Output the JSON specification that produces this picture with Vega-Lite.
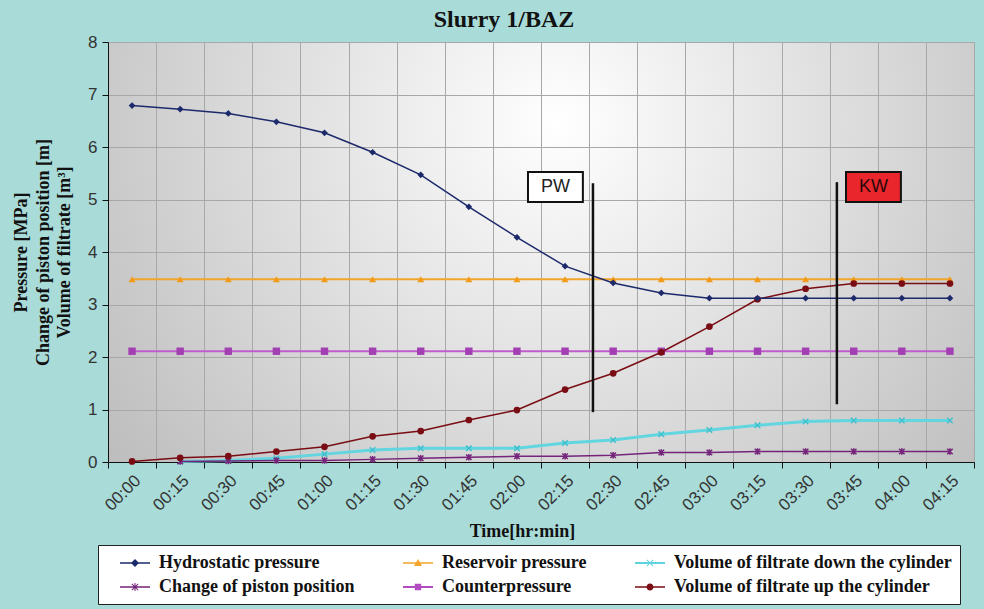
{
  "$schema": "https://vega.github.io/schema/vega-lite/v6.json",
  "width": 866,
  "height": 420,
  "autosize": {"type": "none"},
  "padding": {"left": 108, "top": 42, "right": 10, "bottom": 147},
  "background": "#a9dbd8",
  "title": {"text": "Slurry 1/BAZ", "font": "Liberation Serif", "fontSize": 24, "fontWeight": "bold", "color": "#111111", "anchor": "middle", "dx": -37, "offset": 1},
  "config": {
    "font": "Liberation Sans",
    "view": {"stroke": null, "fill": {"gradient": "radial", "x1": 0.52, "y1": 0.35, "r1": 0, "x2": 0.52, "y2": 0.35, "r2": 0.65, "stops": [{"offset": 0, "color": "#ffffff"}, {"offset": 1, "color": "#bdbdbd"}]}}
  },
  "datasets": {
    "series": [
      {"t": "00:00", "s": "Hydrostatic pressure", "v": 6.79},
      {"t": "00:15", "s": "Hydrostatic pressure", "v": 6.72},
      {"t": "00:30", "s": "Hydrostatic pressure", "v": 6.64},
      {"t": "00:45", "s": "Hydrostatic pressure", "v": 6.48},
      {"t": "01:00", "s": "Hydrostatic pressure", "v": 6.27},
      {"t": "01:15", "s": "Hydrostatic pressure", "v": 5.90},
      {"t": "01:30", "s": "Hydrostatic pressure", "v": 5.47},
      {"t": "01:45", "s": "Hydrostatic pressure", "v": 4.86},
      {"t": "02:00", "s": "Hydrostatic pressure", "v": 4.28},
      {"t": "02:15", "s": "Hydrostatic pressure", "v": 3.73},
      {"t": "02:30", "s": "Hydrostatic pressure", "v": 3.41},
      {"t": "02:45", "s": "Hydrostatic pressure", "v": 3.22},
      {"t": "03:00", "s": "Hydrostatic pressure", "v": 3.12},
      {"t": "03:15", "s": "Hydrostatic pressure", "v": 3.12},
      {"t": "03:30", "s": "Hydrostatic pressure", "v": 3.12},
      {"t": "03:45", "s": "Hydrostatic pressure", "v": 3.12},
      {"t": "04:00", "s": "Hydrostatic pressure", "v": 3.12},
      {"t": "04:15", "s": "Hydrostatic pressure", "v": 3.12},
      {"t": "00:00", "s": "Reservoir pressure", "v": 3.48},
      {"t": "00:15", "s": "Reservoir pressure", "v": 3.48},
      {"t": "00:30", "s": "Reservoir pressure", "v": 3.48},
      {"t": "00:45", "s": "Reservoir pressure", "v": 3.48},
      {"t": "01:00", "s": "Reservoir pressure", "v": 3.48},
      {"t": "01:15", "s": "Reservoir pressure", "v": 3.48},
      {"t": "01:30", "s": "Reservoir pressure", "v": 3.48},
      {"t": "01:45", "s": "Reservoir pressure", "v": 3.48},
      {"t": "02:00", "s": "Reservoir pressure", "v": 3.48},
      {"t": "02:15", "s": "Reservoir pressure", "v": 3.48},
      {"t": "02:30", "s": "Reservoir pressure", "v": 3.48},
      {"t": "02:45", "s": "Reservoir pressure", "v": 3.48},
      {"t": "03:00", "s": "Reservoir pressure", "v": 3.48},
      {"t": "03:15", "s": "Reservoir pressure", "v": 3.48},
      {"t": "03:30", "s": "Reservoir pressure", "v": 3.48},
      {"t": "03:45", "s": "Reservoir pressure", "v": 3.48},
      {"t": "04:00", "s": "Reservoir pressure", "v": 3.48},
      {"t": "04:15", "s": "Reservoir pressure", "v": 3.48},
      {"t": "00:00", "s": "Counterpressure", "v": 2.11},
      {"t": "00:15", "s": "Counterpressure", "v": 2.11},
      {"t": "00:30", "s": "Counterpressure", "v": 2.11},
      {"t": "00:45", "s": "Counterpressure", "v": 2.11},
      {"t": "01:00", "s": "Counterpressure", "v": 2.11},
      {"t": "01:15", "s": "Counterpressure", "v": 2.11},
      {"t": "01:30", "s": "Counterpressure", "v": 2.11},
      {"t": "01:45", "s": "Counterpressure", "v": 2.11},
      {"t": "02:00", "s": "Counterpressure", "v": 2.11},
      {"t": "02:15", "s": "Counterpressure", "v": 2.11},
      {"t": "02:30", "s": "Counterpressure", "v": 2.11},
      {"t": "02:45", "s": "Counterpressure", "v": 2.11},
      {"t": "03:00", "s": "Counterpressure", "v": 2.11},
      {"t": "03:15", "s": "Counterpressure", "v": 2.11},
      {"t": "03:30", "s": "Counterpressure", "v": 2.11},
      {"t": "03:45", "s": "Counterpressure", "v": 2.11},
      {"t": "04:00", "s": "Counterpressure", "v": 2.11},
      {"t": "04:15", "s": "Counterpressure", "v": 2.11},
      {"t": "00:15", "s": "Volume of filtrate down the cylinder", "v": 0.01},
      {"t": "00:30", "s": "Volume of filtrate down the cylinder", "v": 0.03},
      {"t": "00:45", "s": "Volume of filtrate down the cylinder", "v": 0.07},
      {"t": "01:00", "s": "Volume of filtrate down the cylinder", "v": 0.15},
      {"t": "01:15", "s": "Volume of filtrate down the cylinder", "v": 0.23},
      {"t": "01:30", "s": "Volume of filtrate down the cylinder", "v": 0.26},
      {"t": "01:45", "s": "Volume of filtrate down the cylinder", "v": 0.26},
      {"t": "02:00", "s": "Volume of filtrate down the cylinder", "v": 0.26},
      {"t": "02:15", "s": "Volume of filtrate down the cylinder", "v": 0.36},
      {"t": "02:30", "s": "Volume of filtrate down the cylinder", "v": 0.42},
      {"t": "02:45", "s": "Volume of filtrate down the cylinder", "v": 0.53},
      {"t": "03:00", "s": "Volume of filtrate down the cylinder", "v": 0.61},
      {"t": "03:15", "s": "Volume of filtrate down the cylinder", "v": 0.70},
      {"t": "03:30", "s": "Volume of filtrate down the cylinder", "v": 0.77},
      {"t": "03:45", "s": "Volume of filtrate down the cylinder", "v": 0.79},
      {"t": "04:00", "s": "Volume of filtrate down the cylinder", "v": 0.79},
      {"t": "04:15", "s": "Volume of filtrate down the cylinder", "v": 0.79},
      {"t": "00:15", "s": "Change of piston position", "v": 0.01},
      {"t": "00:30", "s": "Change of piston position", "v": 0.02},
      {"t": "00:45", "s": "Change of piston position", "v": 0.03},
      {"t": "01:00", "s": "Change of piston position", "v": 0.03},
      {"t": "01:15", "s": "Change of piston position", "v": 0.05},
      {"t": "01:30", "s": "Change of piston position", "v": 0.07},
      {"t": "01:45", "s": "Change of piston position", "v": 0.09},
      {"t": "02:00", "s": "Change of piston position", "v": 0.11},
      {"t": "02:15", "s": "Change of piston position", "v": 0.11},
      {"t": "02:30", "s": "Change of piston position", "v": 0.13},
      {"t": "02:45", "s": "Change of piston position", "v": 0.18},
      {"t": "03:00", "s": "Change of piston position", "v": 0.18},
      {"t": "03:15", "s": "Change of piston position", "v": 0.20},
      {"t": "03:30", "s": "Change of piston position", "v": 0.20},
      {"t": "03:45", "s": "Change of piston position", "v": 0.20},
      {"t": "04:00", "s": "Change of piston position", "v": 0.20},
      {"t": "04:15", "s": "Change of piston position", "v": 0.20},
      {"t": "00:00", "s": "Volume of filtrate up the cylinder", "v": 0.01},
      {"t": "00:15", "s": "Volume of filtrate up the cylinder", "v": 0.08},
      {"t": "00:30", "s": "Volume of filtrate up the cylinder", "v": 0.11},
      {"t": "00:45", "s": "Volume of filtrate up the cylinder", "v": 0.20},
      {"t": "01:00", "s": "Volume of filtrate up the cylinder", "v": 0.29},
      {"t": "01:15", "s": "Volume of filtrate up the cylinder", "v": 0.49},
      {"t": "01:30", "s": "Volume of filtrate up the cylinder", "v": 0.59},
      {"t": "01:45", "s": "Volume of filtrate up the cylinder", "v": 0.80},
      {"t": "02:00", "s": "Volume of filtrate up the cylinder", "v": 0.99},
      {"t": "02:15", "s": "Volume of filtrate up the cylinder", "v": 1.38},
      {"t": "02:30", "s": "Volume of filtrate up the cylinder", "v": 1.69},
      {"t": "02:45", "s": "Volume of filtrate up the cylinder", "v": 2.09},
      {"t": "03:00", "s": "Volume of filtrate up the cylinder", "v": 2.58},
      {"t": "03:15", "s": "Volume of filtrate up the cylinder", "v": 3.10},
      {"t": "03:30", "s": "Volume of filtrate up the cylinder", "v": 3.30},
      {"t": "03:45", "s": "Volume of filtrate up the cylinder", "v": 3.40},
      {"t": "04:00", "s": "Volume of filtrate up the cylinder", "v": 3.40},
      {"t": "04:15", "s": "Volume of filtrate up the cylinder", "v": 3.40}
    ]
  },
  "data": {"name": "series"},
  "encoding": {
    "x": {
      "field": "t", "type": "ordinal",
      "scale": {"paddingInner": 0, "paddingOuter": 0},
      "axis": {
        "title": "Time[hr:min]", "titleFont": "Liberation Serif", "titleFontSize": 18, "titleFontWeight": "bold", "titleColor": "#111111", "titlePadding": 9, "titleX": 414,
        "tickBand": "extent", "grid": true, "gridColor": "#a8a8a8", "gridWidth": 1,
        "domainColor": "#111111", "tickColor": "#111111", "tickSize": 6,
        "labelAngle": -45, "labelFont": "Liberation Sans", "labelFontSize": 17, "labelColor": "#333333", "labelPadding": 4
      }
    },
    "y": {
      "field": "v", "type": "quantitative",
      "scale": {"domain": [0, 8], "nice": false},
      "axis": {
        "title": ["Pressure [MPa]", "Change of piston position [m]", "Volume of filtrate [m³]"],
        "titleFont": "Liberation Serif", "titleFontSize": 18, "titleFontWeight": "bold", "titleColor": "#111111", "titleLineHeight": 21.5, "titlePadding": 14,
        "values": [0, 1, 2, 3, 4, 5, 6, 7, 8], "grid": true, "gridColor": "#a8a8a8", "gridWidth": 1,
        "domainColor": "#111111", "tickColor": "#111111", "tickSize": 6,
        "labelFont": "Liberation Sans", "labelFontSize": 17, "labelColor": "#333333", "labelPadding": 5
      }
    }
  },
  "layer": [
    {
      "transform": [{"filter": "datum.s === 'Counterpressure'"}],
      "layer": [
        {"mark": {"type": "line", "color": "#c05ccc", "strokeWidth": 2}},
        {"mark": {"type": "point", "shape": "square", "filled": true, "size": 55, "color": "#a23fb2", "opacity": 1}}
      ]
    },
    {
      "transform": [{"filter": "datum.s === 'Reservoir pressure'"}],
      "layer": [
        {"mark": {"type": "line", "color": "#f2a52a", "strokeWidth": 2}},
        {"mark": {"type": "point", "shape": "triangle-up", "filled": true, "size": 50, "color": "#f29a1a", "opacity": 1}}
      ]
    },
    {
      "transform": [{"filter": "datum.s === 'Volume of filtrate down the cylinder'"}],
      "layer": [
        {"mark": {"type": "line", "color": "#62d6e0", "strokeWidth": 3}},
        {"mark": {"type": "point", "shape": "M-1,-1L1,1M1,-1L-1,1", "filled": false, "size": 30, "color": "#3fc0cc", "strokeWidth": 1.5, "opacity": 1}}
      ]
    },
    {
      "transform": [{"filter": "datum.s === 'Change of piston position'"}],
      "layer": [
        {"mark": {"type": "line", "color": "#74247a", "strokeWidth": 1.5}},
        {"mark": {"type": "point", "shape": "M-1,-1L1,1M1,-1L-1,1M0,-1.2L0,1.2", "filled": false, "size": 30, "color": "#74247a", "strokeWidth": 1.5, "opacity": 1}}
      ]
    },
    {
      "transform": [{"filter": "datum.s === 'Volume of filtrate up the cylinder'"}],
      "layer": [
        {"mark": {"type": "line", "color": "#7a0c14", "strokeWidth": 1.5}},
        {"mark": {"type": "point", "shape": "circle", "filled": true, "size": 45, "color": "#7a0c14", "opacity": 1}}
      ]
    },
    {
      "transform": [{"filter": "datum.s === 'Hydrostatic pressure'"}],
      "layer": [
        {"mark": {"type": "line", "color": "#1c2a6b", "strokeWidth": 1.5}},
        {"mark": {"type": "point", "shape": "diamond", "filled": true, "size": 45, "color": "#1c2a6b", "opacity": 1}}
      ]
    },
    {
      "mark": {"type": "point", "filled": true, "clip": true, "opacity": 1},
      "encoding": {
        "y": {"datum": -1},
        "color": {"field": "s", "type": "nominal",
          "scale": {"domain": ["Hydrostatic pressure", "Reservoir pressure", "Volume of filtrate down the cylinder", "Change of piston position", "Counterpressure", "Volume of filtrate up the cylinder"],
                    "range": ["#1c2a6b", "#f2a52a", "#5fd4de", "#74247a", "#b24cc0", "#7a0c14"]},
          "legend": {"title": null, "orient": "none", "legendX": -10, "legendY": 503, "columns": 3, "direction": "horizontal", "columnPadding": 34, "rowPadding": 5, "symbolSize": 400, "symbolOffset": 19, "symbolStrokeWidth": 0, "labelFont": "Liberation Serif", "labelFontSize": 18, "labelFontWeight": "bold", "labelColor": "#111111", "labelOffset": 14, "labelLimit": 0, "strokeColor": "#222222", "fillColor": "#ffffff", "padding": 8}},
        "shape": {"field": "s", "type": "nominal",
          "scale": {"domain": ["Hydrostatic pressure", "Reservoir pressure", "Volume of filtrate down the cylinder", "Change of piston position", "Counterpressure", "Volume of filtrate up the cylinder"],
                    "range": [
                      "M-1.5,-0.07H1.5V0.07H-1.5Z M0,-0.4L0.4,0L0,0.4L-0.4,0Z",
                      "M-1.5,-0.07H1.5V0.07H-1.5Z M0,-0.4L0.4,0.3L-0.4,0.3Z",
                      "M-1.5,-0.1H1.5V0.1H-1.5Z M-0.35,-0.28L-0.28,-0.35L0.35,0.28L0.28,0.35Z M0.28,-0.35L0.35,-0.28L-0.28,0.35L-0.35,0.28Z",
                      "M-1.5,-0.07H1.5V0.07H-1.5Z M-0.35,-0.28L-0.28,-0.35L0.35,0.28L0.28,0.35Z M0.28,-0.35L0.35,-0.28L-0.28,0.35L-0.35,0.28Z M-0.05,-0.4H0.05V0.4H-0.05Z",
                      "M-1.5,-0.09H1.5V0.09H-1.5Z M-0.32,-0.32H0.32V0.32H-0.32Z",
                      "M-1.5,-0.07H1.5V0.07H-1.5Z M0.35,0A0.35,0.35,0,1,1,-0.35,0A0.35,0.35,0,1,1,0.35,0Z"
                    ]},
          "legend": {"title": null, "orient": "none", "legendX": -10, "legendY": 503, "columns": 3, "direction": "horizontal", "columnPadding": 34, "rowPadding": 5, "symbolSize": 400, "symbolOffset": 19, "symbolStrokeWidth": 0, "labelFont": "Liberation Serif", "labelFontSize": 18, "labelFontWeight": "bold", "labelColor": "#111111", "labelOffset": 14, "labelLimit": 0, "strokeColor": "#222222", "fillColor": "#ffffff", "padding": 8}}
      }
    },
    {
      "data": {"values": [{"t": "02:30", "top": 5.31, "bottom": 0.95}]},
      "mark": {"type": "rule", "color": "#111111", "strokeWidth": 2.5},
      "encoding": {
        "x": {"field": "t", "type": "ordinal", "bandPosition": 0.08},
        "y": {"field": "top", "type": "quantitative"},
        "y2": {"field": "bottom"}
      }
    },
    {
      "data": {"values": [{"t": "03:45", "top": 5.33, "bottom": 1.10}]},
      "mark": {"type": "rule", "color": "#111111", "strokeWidth": 2.5},
      "encoding": {
        "x": {"field": "t", "type": "ordinal", "bandPosition": 0.15},
        "y": {"field": "top", "type": "quantitative"},
        "y2": {"field": "bottom"}
      }
    },
    {
      "data": {"values": [{"t": "02:15", "label": "PW", "pos": 5.24}]},
      "layer": [
        {"mark": {"type": "point", "shape": "M-1.83,-1H1.83V1H-1.83Z", "size": 900, "filled": true, "fill": "#ffffff", "stroke": "#111111", "strokeWidth": 2, "opacity": 1}},
        {"mark": {"type": "text", "font": "Liberation Sans", "fontSize": 18, "color": "#222222", "baseline": "middle", "align": "center"}, "encoding": {"text": {"field": "label"}}}
      ],
      "encoding": {
        "x": {"field": "t", "type": "ordinal", "bandPosition": 0.3},
        "y": {"field": "pos", "type": "quantitative"}
      }
    },
    {
      "data": {"values": [{"t": "03:45", "label": "KW", "pos": 5.24}]},
      "layer": [
        {"mark": {"type": "point", "shape": "M-1.83,-1H1.83V1H-1.83Z", "size": 900, "filled": true, "fill": "#e8262b", "stroke": "#111111", "strokeWidth": 2, "opacity": 1}},
        {"mark": {"type": "text", "font": "Liberation Sans", "fontSize": 18, "color": "#2a0808", "baseline": "middle", "align": "center"}, "encoding": {"text": {"field": "label"}}}
      ],
      "encoding": {
        "x": {"field": "t", "type": "ordinal", "bandPosition": 0.91},
        "y": {"field": "pos", "type": "quantitative"}
      }
    }
  ]
}
